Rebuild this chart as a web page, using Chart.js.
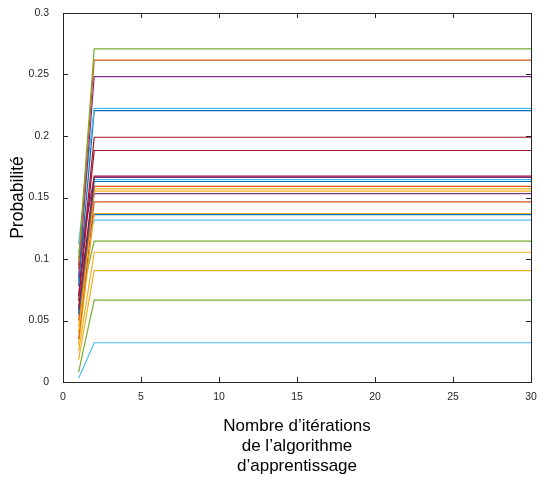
<!DOCTYPE html>
<html>
<head>
<meta charset="utf-8">
<script src="https://cdn.jsdelivr.net/npm/chart.js@4/dist/chart.umd.min.js"></script>
<style>
  html, body { margin: 0; padding: 0; background: #fff; }
  #wrap { width: 539px; height: 482px; position: relative; }
</style>
</head>
<body>
<div id="wrap"><canvas id="chart" width="539" height="482"></canvas></div>
<script>
// iterations of the learning algorithm
const iterations = [1, 2, 3, 4, 5, 6, 7, 8, 9, 10, 11, 12, 13, 14, 15, 16, 17, 18, 19, 20, 21, 22, 23, 24, 25, 26, 27, 28, 29, 30];

// probability at iteration 1, then the value it settles to from iteration 2 on
const startValues = [0.100, 0.092, 0.085, 0.112, 0.078, 0.070, 0.066, 0.060, 0.095, 0.105, 0.055, 0.050, 0.045, 0.040, 0.058, 0.035, 0.030, 0.082, 0.101, 0.060, 0.025, 0.018, 0.008, 0.003];
const finalValues = [0.2709, 0.2617, 0.2482, 0.2225, 0.2206, 0.1990, 0.1882, 0.1673, 0.1663, 0.1645, 0.1630, 0.1590, 0.1570, 0.1552, 0.1532, 0.1465, 0.1370, 0.1360, 0.1316, 0.1145, 0.1055, 0.0906, 0.0665, 0.0319];
const seriesColors = ['#77AC30', '#D95319', '#7E2F8E', '#4DBEEE', '#0072BD', '#A2142F', '#A2142F', '#A2142F', '#7E2F8E', '#4DBEEE', '#0072BD', '#D95319', '#EDB120', '#EDB120', '#7E2F8E', '#D95319', '#EDB120', '#0072BD', '#4DBEEE', '#77AC30', '#EDB120', '#EDB120', '#77AC30', '#4DBEEE'];

const xTicks = [0, 5, 10, 15, 20, 25, 30];
const yTicks = [0, 0.05, 0.1, 0.15, 0.2, 0.25, 0.3];

const datasets = finalValues.map((final, i) => ({
    data: iterations.map(it => ({ x: it, y: it === 1 ? startValues[i] : final })),
    borderColor: seriesColors[i],
    borderWidth: 1.2,
    pointRadius: 0,
    tension: 0,
    fill: false
}));

// MATLAB style box with inward ticks
const boxPlugin = {
    id: 'box',
    afterDraw(chart) {
        const { ctx, chartArea: a, scales: { x, y } } = chart;
        const tl = 5;
        ctx.save();
        ctx.strokeStyle = '#262626';
        ctx.lineWidth = 1;
        ctx.strokeRect(a.left + 0.5, a.top + 0.5, a.right - a.left, a.bottom - a.top);
        ctx.beginPath();
        xTicks.forEach(v => {
            const px = Math.round(x.getPixelForValue(v)) + 0.5;
            ctx.moveTo(px, a.bottom); ctx.lineTo(px, a.bottom - tl);
            ctx.moveTo(px, a.top); ctx.lineTo(px, a.top + tl);
        });
        yTicks.forEach(v => {
            const py = Math.round(y.getPixelForValue(v)) + 0.5;
            ctx.moveTo(a.left, py); ctx.lineTo(a.left + tl, py);
            ctx.moveTo(a.right, py); ctx.lineTo(a.right - tl, py);
        });
        ctx.stroke();
        ctx.restore();
    }
};

new Chart(document.getElementById('chart').getContext('2d'), {
    type: 'line',
    data: { datasets },
    plugins: [boxPlugin],
    options: {
        responsive: false,
        animation: false,
        layout: { padding: { top: 13, right: 8, bottom: 0, left: 0 } },
        plugins: { legend: { display: false }, tooltip: { enabled: false } },
        scales: {
            x: {
                type: 'linear',
                min: 0,
                max: 30,
                afterFit: s => { s.height = 100; s.paddingLeft = 0; s.paddingRight = 0; },
                afterBuildTicks: s => { s.ticks = xTicks.map(v => ({ value: v })); },
                grid: { display: false },
                border: { display: false },
                ticks: {
                    padding: 1,
                    color: '#262626',
                    font: { family: 'Liberation Sans, Arial, sans-serif', size: 10.5 },
                    maxRotation: 0
                },
                title: {
                    display: true,
                    text: ['Nombre d\u2019itérations', 'de l\u2019algorithme', 'd\u2019apprentissage'],
                    color: '#000',
                    font: { family: 'Liberation Sans, Arial, sans-serif', size: 17 },
                    padding: { top: 0, bottom: 5 }
                }
            },
            y: {
                min: 0,
                max: 0.3,
                afterFit: s => { s.width = 63; },
                afterBuildTicks: s => { s.ticks = yTicks.map(v => ({ value: v })); },
                grid: { display: false },
                border: { display: false },
                ticks: {
                    padding: 6,
                    color: '#262626',
                    font: { family: 'Liberation Sans, Arial, sans-serif', size: 10.5 },
                    callback: v => String(Math.round(v * 100) / 100)
                },
                title: {
                    display: true,
                    text: 'Probabilité',
                    color: '#000',
                    font: { family: 'Liberation Sans, Arial, sans-serif', size: 17.5 },
                    padding: { top: 8, bottom: 0 }
                }
            }
        }
    }
});
</script>
</body>
</html>
